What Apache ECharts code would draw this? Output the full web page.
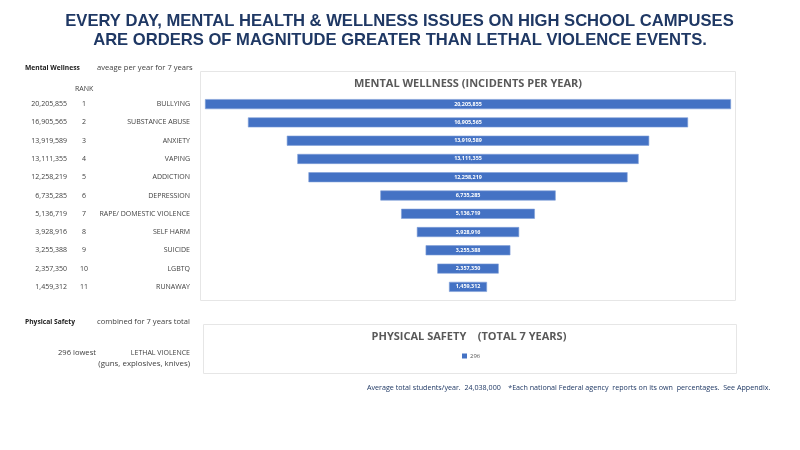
<!DOCTYPE html>
<html>
<head>
<meta charset="utf-8">
<style>html,body{margin:0;padding:0;background:#fff}#chart{width:800px;height:450px}</style>
<script src="https://cdn.jsdelivr.net/npm/echarts@6/dist/echarts.min.js"></script>
</head>
<body>
<div id="chart"></div>
<script>
// data
var categories = ['BULLYING','SUBSTANCE ABUSE','ANXIETY','VAPING','ADDICTION','DEPRESSION','RAPE/ DOMESTIC VIOLENCE','SELF HARM','SUICIDE','LGBTQ','RUNAWAY'];
var ranks = ['1','2','3','4','5','6','7','8','9','10','11'];
var incidents = [20205855,16905565,13919589,13111355,12258219,6735285,5136719,3928916,3255388,2357350,1459312];
var lethal = [296];

var fmt = function(v){ return v.toLocaleString('en-US'); };
var maxVal = incidents[0];
// invisible part of the stack, centres the bars into a funnel
var spacer = incidents.map(function(v){ return (maxVal - v) / 2; });

var note = function(x, y, text, size, align, bold, color){
	return {type:'text', x:x, y:y, style:{text:text, align:align||'left', verticalAlign:'middle', fill:color||'#404040',
		fontFamily:'Open Sans', fontSize:size, fontWeight:bold?'bold':'normal'}};
};

var myChart = echarts.init(document.getElementById('chart'));
var option = {
	animation:false,
	backgroundColor:'#fff',
	title:[
		{text:'EVERY DAY, MENTAL HEALTH & WELLNESS ISSUES ON HIGH SCHOOL CAMPUSES', left:394.5, top:8, textAlign:'center',
			textStyle:{color:'#1f3864', fontFamily:'Liberation Sans', fontSize:16.6, fontWeight:'bold'}},
		{text:'ARE ORDERS OF MAGNITUDE GREATER THAN LETHAL VIOLENCE EVENTS.', left:395, top:27, textAlign:'center',
			textStyle:{color:'#1f3864', fontFamily:'Liberation Sans', fontSize:16.6, fontWeight:'bold'}},
		{text:'MENTAL WELLNESS (INCIDENTS PER YEAR)', left:463, top:73, textAlign:'center',
			textStyle:{color:'#595959', fontFamily:'Open Sans', fontSize:11, fontWeight:'bold'}},
		{text:'PHYSICAL SAFETY    (TOTAL 7 YEARS)', left:464, top:326, textAlign:'center',
			textStyle:{color:'#595959', fontFamily:'Open Sans', fontSize:11, fontWeight:'bold'}}
	],
	legend:{data:['296'], left:457, top:348, itemWidth:5, itemHeight:5, itemGap:3, icon:'rect',
		textStyle:{color:'#595959', fontFamily:'Open Sans', fontSize:6, padding:[0,0,0,-2]}},
	grid:[
		{left:205, right:69, top:95, height:201, outerBoundsMode:'none'},
		{left:205, right:69, top:362, height:8, outerBoundsMode:'none'}
	],
	xAxis:[
		{type:'value', gridIndex:0, min:0, max:maxVal, show:false},
		{type:'value', gridIndex:1, min:0, max:maxVal, show:false}
	],
	yAxis:[
		{type:'category', gridIndex:0, position:'left', inverse:true, data:categories, axisLine:{show:false}, axisTick:{show:false},
			axisLabel:{margin:15, color:'#404040', fontFamily:'Open Sans', fontSize:7, interval:0}},
		{type:'category', gridIndex:0, position:'left', inverse:true, data:ranks, axisLine:{show:false}, axisTick:{show:false},
			axisLabel:{margin:121, align:'center', color:'#404040', fontFamily:'Open Sans', fontSize:7, interval:0}},
		{type:'category', gridIndex:0, position:'left', inverse:true, data:incidents.map(fmt), axisLine:{show:false}, axisTick:{show:false},
			axisLabel:{margin:138, color:'#404040', fontFamily:'Open Sans', fontSize:7, interval:0}},
		{type:'category', gridIndex:1, data:['LETHAL VIOLENCE'], show:false}
	],
	series:[
		{type:'bar', name:'spacer', xAxisIndex:0, yAxisIndex:0, stack:'funnel', barWidth:10, silent:true,
			itemStyle:{color:'transparent'}, data:spacer},
		{type:'bar', name:'Mental Wellness', xAxisIndex:0, yAxisIndex:0, stack:'funnel', barWidth:10,
			itemStyle:{color:'#4472c4', borderColor:'#7f9fd8', borderWidth:0.6},
			label:{show:true, position:'inside', color:'#fff', fontFamily:'Open Sans', fontSize:5.4, fontWeight:'bold',
				formatter:function(p){ return fmt(p.value); }},
			data:incidents},
		{type:'bar', name:'296', xAxisIndex:1, yAxisIndex:3, barWidth:5, itemStyle:{color:'#4472c4'}, data:lethal}
	],
	graphic:[
		{type:'rect', z:-1, shape:{x:200.5,y:71.5,width:535,height:229}, style:{fill:'#fff', stroke:'#e6e6e6', lineWidth:1}},
		{type:'rect', z:-1, shape:{x:203.5,y:324.5,width:533,height:49}, style:{fill:'#fff', stroke:'#e6e6e6', lineWidth:1}},
		note(25,68,'Mental Wellness',6.7,'left',true,'#1a1a1a'),
		note(97,68,'aveage per year for 7 years',7.6),
		note(75,89,'RANK',7),
		note(25,322,'Physical Safety',6.7,'left',true,'#1a1a1a'),
		note(97,322,'combined for 7 years total',7.6),
		note(58,353,'296 lowest',7.6),
		note(190,353,'LETHAL VIOLENCE',7,'right'),
		note(190,363.5,'(guns, explosives, knives)',7.9,'right'),
		note(367,388,'Average total students/year.  24,038,000    *Each national Federal agency  reports on its own  percentages.  See Appendix.',7.15,'left',false,'#1f3864')
	]
};
myChart.setOption(option);
</script>
</body>
</html>
